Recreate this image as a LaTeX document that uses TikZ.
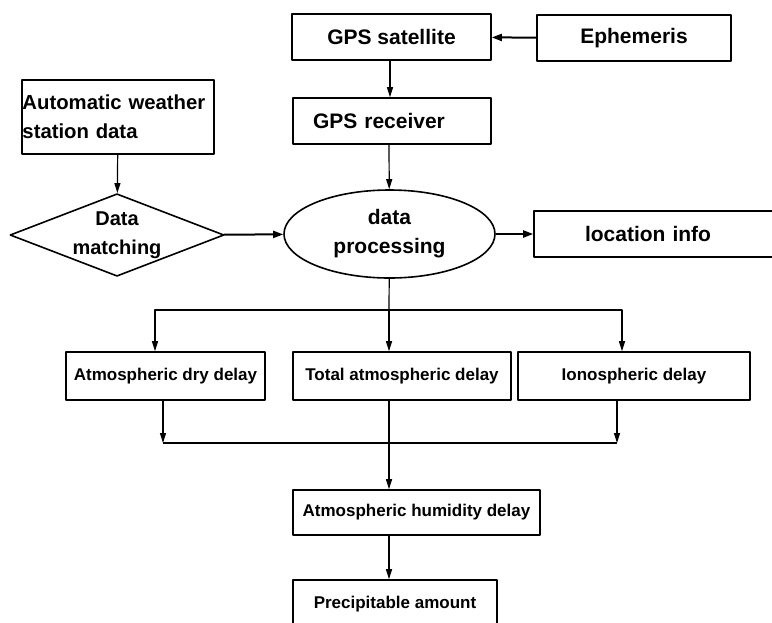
\documentclass[tikz,border=0pt]{standalone}
\usepackage{fontspec}
\setmainfont{Liberation Sans}
\usetikzlibrary{arrows.meta,shapes.geometric}
\begin{document}
\begin{tikzpicture}[x=1pt,y=-1pt,line join=round]
        \tikzset{hop/.style={draw,line width=1.6pt,inner sep=0pt,font=\bfseries\fontsize{21}{29}\selectfont},
                hop_nho/.style={hop,font=\bfseries\fontsize{17}{21}\selectfont},
                mui_ten/.style={line width=1.2pt,-{Triangle[width=6pt,length=10pt]}},
                mui_dam/.style={line width=2pt,-{Triangle[width=7pt,length=10pt]}},
                day/.style={line width=1.2pt}}
        \useasboundingbox (0,0) rectangle (772,622);
        \path
        (389,310) coordinate (tren)
        (389,443) coordinate (duoi)
        ;
        \node[hop,minimum width=199pt,minimum height=46pt] (sat) at (391.5,37) {GPS satellite};
        \node[hop,minimum width=194pt,minimum height=46pt] (eph) at (634,38) {Ephemeris};
        \node[hop,minimum height=46pt,text width=158pt,inner xsep=20pt,align=left] (rec) at (392,121) {GPS receiver};
        \node[hop,minimum height=74pt,text width=191pt,inner xsep=0.5pt,align=left,font=\bfseries\fontsize{20.3}{29}\selectfont] (aws) at (118,117) {Automatic weather\\station data};
        \node[hop,shape=diamond,shape aspect=2.5,minimum width=214pt,minimum height=76pt,align=center,font=\bfseries\fontsize{20}{29}\selectfont] (match) at (117,235) {Data\\matching};
        \node[hop,shape=ellipse,minimum width=211pt,minimum height=88pt,align=center] (proc) at (389.5,234) {data\\processing};
        \node[hop,minimum height=46pt,text width=200pt,inner xsep=51pt,align=left] (loc) at (685,234) {location info};
        \node[hop_nho,minimum width=199pt,minimum height=48pt] (dry) at (165.5,376) {Atmospheric dry delay};
        \node[hop_nho,minimum width=218pt,minimum height=48pt] (total) at (402,376) {Total atmospheric delay};
        \node[hop_nho,minimum width=232pt,minimum height=48pt] (iono) at (634,376) {Ionospheric delay};
        \node[hop_nho,minimum width=247pt,minimum height=45pt] (hum) at (416.5,512.5) {Atmospheric humidity delay};
        \node[hop_nho,minimum width=204pt,minimum height=48pt] (prec) at (395,604) {Precipitable amount};
        %\node[hop] at (0,0) {};
        \draw[mui_dam] (eph) -- (sat);
        \draw[mui_ten] (sat.south -| 390,0) -- (rec.north -| 390,0);
        \draw[mui_ten] (aws) -- (match);
        \draw[mui_ten] (rec.south -| 389,0) -- (proc);
        \draw[mui_dam] (match) -- (proc);
        \draw[mui_dam] (proc) -- (loc);
        \draw[day] (proc) -- (tren);
        \draw[mui_ten] (tren) -| (dry.north -| 155,0);
        \draw[mui_ten] (tren) -- (total.north -| tren);
        \draw[mui_ten] (tren) -| (iono.north -| 622,0);
        \draw[mui_ten] (dry.south -| 163,0) -- (duoi -| 163,0);
        \draw[mui_ten] (iono.south -| 617,0) -- (duoi -| 617,0);
        \draw[day] (duoi -| 163,0) -- (duoi -| 617,0);
        \draw[mui_ten] (total.south -| duoi) -- (hum.north -| duoi);
        \draw[mui_ten] (hum.south -| duoi) -- (prec.north -| duoi);
\end{tikzpicture}
\end{document}
